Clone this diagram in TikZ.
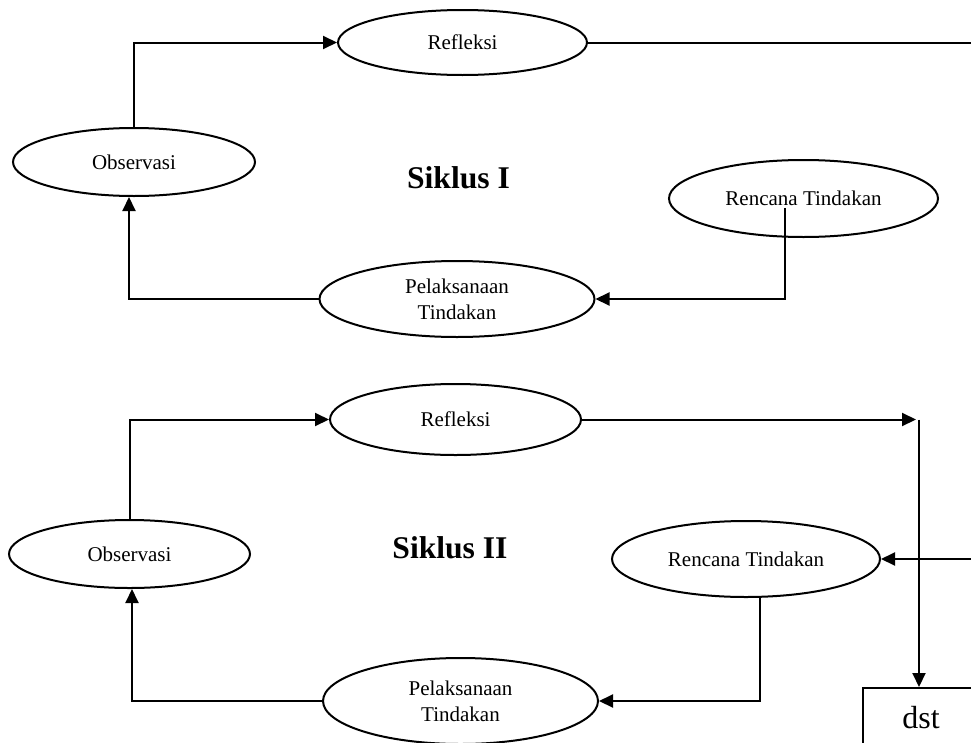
\documentclass[tikz,border=0pt]{standalone}
\usepackage{fontspec}
\setmainfont{Liberation Serif}
\usepackage{tikz}
\usetikzlibrary{arrows.meta,shapes}

\tikzset{
  proses/.style={draw,ellipse,line width=1bp,inner sep=0pt,align=center,
    font=\fontsize{10.5bp}{13bp}\selectfont},
  judul/.style={inner sep=0pt,font=\fontsize{15.8bp}{19bp}\selectfont\bfseries},
  garis/.style={line width=1bp},
  panah/.style={->,>={Triangle[length=7bp,width=6.5bp]},line width=1bp},
}

\begin{document}
\begin{tikzpicture}

\useasboundingbox (0bp,0bp) rectangle (485.5bp,-371.5bp);
\clip (0bp,0bp) rectangle (485.5bp,-371.5bp);

% siklus I
\node (RF1) at (231.25bp,-21.25bp)[proses,minimum width=124.5bp,minimum height=32.5bp] {Refleksi};
\node (OB1) at (67bp,-81bp)[proses,minimum width=121bp,minimum height=34bp] {Observasi};
\node (PL1) at (228.5bp,-149.5bp)[proses,minimum width=137.5bp,minimum height=38bp] {Pelaksanaan\\Tindakan};
\node (RT1) at (401.75bp,-99.25bp)[proses,minimum width=134.5bp,minimum height=38.5bp] {Rencana Tindakan};
\node (S1) at (229.25bp,-89bp)[judul] {Siklus I};
\coordinate (r1) at (392.5bp,-104bp);
\coordinate (e1) at (486bp,-21.25bp);
\draw [panah] (OB1.north) |- (RF1.west);
\draw [panah] (PL1.west) -| ([xshift=-2.5bp]OB1.south);
\draw [panah] (r1) |- (PL1.east);
\draw [garis] (RF1.east) -- (e1);

% siklus II
\node (RF2) at (227.75bp,-209.75bp)[proses,minimum width=125.5bp,minimum height=35.5bp] {Refleksi};
\node (OB2) at (64.75bp,-277bp)[proses,minimum width=120.5bp,minimum height=34bp] {Observasi};
\node (PL2) at (230.25bp,-350.5bp)[proses,minimum width=137.5bp,minimum height=43bp] {Pelaksanaan\\Tindakan};
\node (RT2) at (373bp,-279.5bp)[proses,minimum width=134bp,minimum height=38bp] {Rencana Tindakan};
\node (S2) at (225bp,-274bp)[judul] {Siklus II};
\node (dst) at (460.5bp,-359bp)[draw,line width=1bp,minimum width=58bp,minimum height=30bp,
  inner sep=0pt,font=\fontsize{16bp}{19bp}\selectfont] {dst};
\coordinate (c2) at (459.5bp,-209.75bp);
\coordinate (e2) at (486bp,-279.5bp);
\draw [panah] (OB2.north) |- (RF2.west);
\draw [panah] (PL2.west) -| ([xshift=1.25bp]OB2.south);
\draw [panah] (RT2.-70) |- (PL2.east);
\draw [panah,shorten >=1.5bp] (RF2.east) -- (c2);
\draw [panah] (c2) -- (c2 |- dst.north);
\draw [panah] (e2) -- (RT2.east);

\end{tikzpicture}
\end{document}
